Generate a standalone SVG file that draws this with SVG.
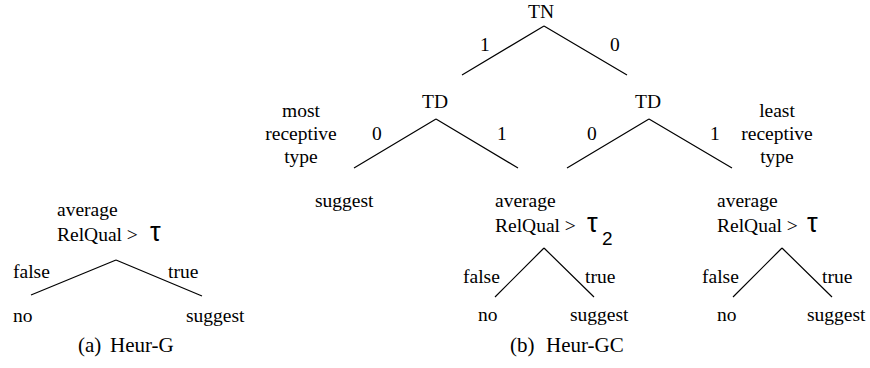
<svg xmlns="http://www.w3.org/2000/svg" width="870" height="368" viewBox="0 0 870 368">
<style>
text{font-family:"Liberation Serif","Times New Roman",serif;font-size:19.5px;fill:#000}
.m{text-anchor:middle}
.tau{font-family:"Liberation Sans",Arial,sans-serif;font-size:27px}
.sub{font-family:"Liberation Sans",Arial,sans-serif;font-size:19px}
.cap{font-size:21px}
#connectors path{stroke:#000;stroke-width:1.2;fill:none}
</style>
<rect width="870" height="368" fill="#fff"/>
<g id="connectors">
<path d="M116,260 L31,295 M116,260 L202,296"/>
<path d="M544,26 L462,75 M544,26 L627,75"/>
<path d="M436,119 L354,168 M436,119 L518,168"/>
<path d="M649,119 L567,168 M649,119 L732,168"/>
<path d="M544,248 L495,297 M544,248 L594,297"/>
<path d="M782,248 L733,297 M782,248 L832,297"/>
</g>
<g id="a-root"><text x="57" y="216">average</text><text x="57" y="241">RelQual &gt;</text><text class="tau" x="150" y="241">τ</text></g>
<g id="a-labels"><text x="13" y="278">false</text><text x="168" y="278">true</text></g>
<g id="a-no"><text x="13" y="322">no</text></g>
<g id="a-suggest"><text x="186" y="322">suggest</text></g>
<g id="a-caption"><text class="cap" x="78" y="352">(a)</text><text class="cap" x="110" y="352">Heur-G</text></g>
<g id="b-TN"><text x="528" y="18">TN</text></g>
<g id="b-TN-labels"><text x="480" y="51">1</text><text x="610" y="51">0</text></g>
<g id="b-TD-left"><text x="422" y="108">TD</text></g>
<g id="b-TD-left-labels"><text x="372" y="140">0</text><text x="497" y="140">1</text></g>
<g id="b-most"><text class="m" x="301" y="117">most</text><text class="m" x="301" y="140">receptive</text><text class="m" x="301" y="163">type</text></g>
<g id="b-TD-right"><text x="635" y="108">TD</text></g>
<g id="b-TD-right-labels"><text x="587" y="140">0</text><text x="710" y="140">1</text></g>
<g id="b-least"><text class="m" x="777" y="117">least</text><text class="m" x="777" y="140">receptive</text><text class="m" x="777" y="163">type</text></g>
<g id="b-suggest1"><text x="315" y="207">suggest</text></g>
<g id="b-avg2"><text x="495" y="207">average</text><text x="495" y="232">RelQual &gt;</text><text class="tau" x="587" y="232">τ</text><text class="sub" x="602" y="245">2</text></g>
<g id="b-avg2-labels"><text x="463" y="283">false</text><text x="585" y="283">true</text></g>
<g id="b-no1"><text x="478" y="321">no</text></g>
<g id="b-suggest2"><text x="570" y="321">suggest</text></g>
<g id="b-avg"><text x="717" y="207">average</text><text x="717" y="232">RelQual &gt;</text><text class="tau" x="807" y="232">τ</text></g>
<g id="b-avg-labels"><text x="702" y="283">false</text><text x="822" y="283">true</text></g>
<g id="b-no2"><text x="717" y="321">no</text></g>
<g id="b-suggest3"><text x="807" y="321">suggest</text></g>
<g id="b-caption"><text class="cap" x="510" y="352">(b)</text><text class="cap" x="546" y="352">Heur-GC</text></g>
</svg>
